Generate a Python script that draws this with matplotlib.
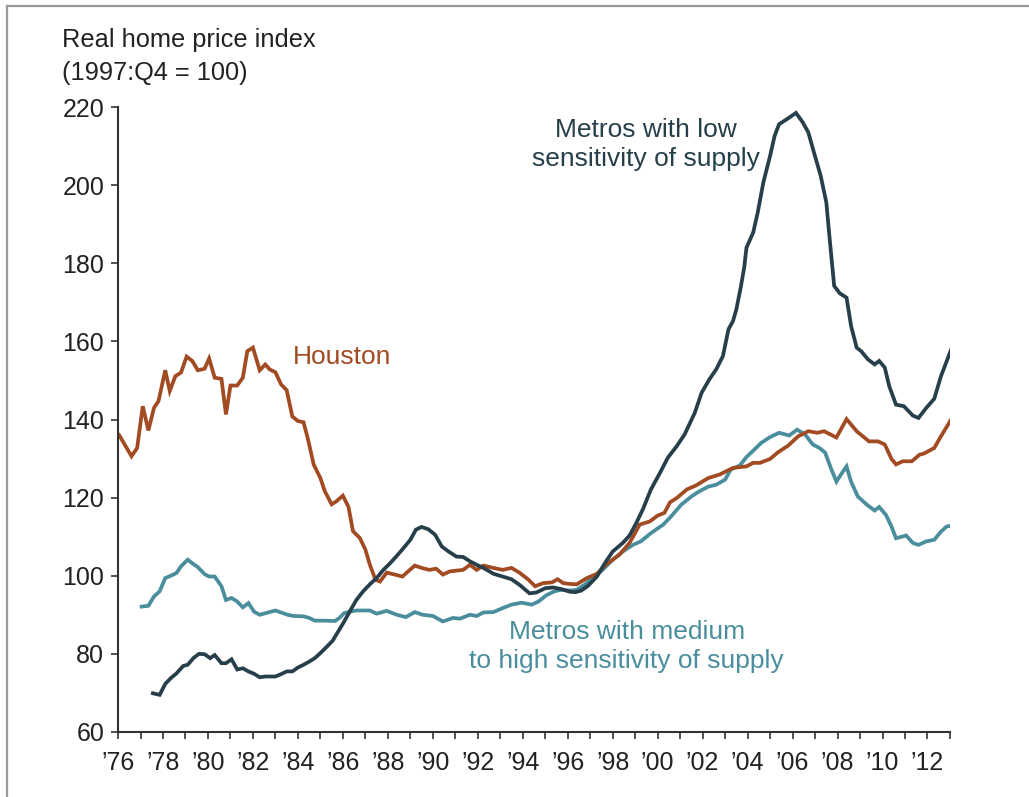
import matplotlib
matplotlib.use('Agg')
import matplotlib.pyplot as plt
from matplotlib.lines import Line2D

plt.rcParams['font.family'] = ['Liberation Sans', 'DejaVu Sans']

# Houston
houston_t = [1976.05, 1976.6, 1976.85, 1977.1, 1977.35, 1977.6, 1977.8, 1978.1, 1978.3, 1978.55,
             1978.8, 1979.05, 1979.3, 1979.55, 1979.85, 1980.05, 1980.3, 1980.6, 1980.8, 1981.0,
             1981.3, 1981.55, 1981.75, 1982.0, 1982.3, 1982.55, 1982.75, 1983.0, 1983.25, 1983.5,
             1983.75, 1984.0, 1984.25, 1984.45, 1984.7, 1985.0, 1985.2, 1985.5, 1985.7, 1986.0,
             1986.25, 1986.45, 1986.75, 1987.0, 1987.2, 1987.45, 1987.65, 1987.95, 1988.3, 1988.65,
             1988.9, 1989.2, 1989.5, 1989.85, 1990.15, 1990.45, 1990.75, 1991.05, 1991.35, 1991.65,
             1991.95, 1992.25, 1992.7, 1993.1, 1993.5, 1993.85, 1994.25, 1994.55, 1994.9, 1995.3,
             1995.55, 1995.8, 1996.1, 1996.4, 1996.85, 1997.3, 1997.7, 1998.3, 1998.75, 1999.2,
             1999.65, 2000.0, 2000.3, 2000.55, 2000.85, 2001.3, 2001.7, 2002.25, 2002.75, 2003.35,
             2003.95, 2004.25, 2004.55, 2005.0, 2005.35, 2005.8, 2006.25, 2006.7, 2007.1, 2007.4,
             2007.95, 2008.4, 2008.85, 2009.4, 2009.8, 2010.1, 2010.4, 2010.6, 2010.9, 2011.3,
             2011.65, 2011.85, 2012.3, 2012.6, 2013.05]
houston_v = [136.0, 130.6, 132.7, 143.4, 137.2, 143.0, 144.7, 152.6, 147.3, 151.1,
             152.0, 156.1, 155.0, 152.6, 153.0, 155.6, 150.7, 150.4, 141.3, 148.7,
             148.7, 150.7, 157.5, 158.4, 152.6, 154.1, 152.8, 152.1, 149.0, 147.5,
             140.8, 139.6, 139.3, 134.9, 128.5, 125.0, 121.6, 118.3, 119.0, 120.5,
             117.6, 111.4, 109.7, 106.7, 102.8, 99.0, 98.5, 100.8, 100.3, 99.8,
             101.1, 102.6, 102.0, 101.5, 101.8, 100.3, 101.1, 101.3, 101.5, 102.8,
             101.5, 102.6, 102.0, 101.5, 102.0, 100.8, 99.0, 97.3, 98.1, 98.3,
             99.1, 98.1, 97.9, 97.8, 99.4, 100.5, 102.8, 105.4, 108.4, 113.1,
             113.9, 115.4, 116.1, 118.8, 119.9, 122.1, 123.1, 125.0, 125.9, 127.6,
             128.0, 128.9, 128.9, 129.9, 131.6, 133.3, 135.7, 137.0, 136.6, 137.0,
             135.4, 140.1, 137.0, 134.4, 134.4, 133.6, 129.9, 128.5, 129.3, 129.3,
             131.0, 131.3, 132.7, 135.7, 140.0]

# Metros with low sensitivity of supply
low_t = [1977.55, 1977.85, 1978.1, 1978.35, 1978.6, 1978.9, 1979.1, 1979.35, 1979.6, 1979.85,
         1980.1, 1980.3, 1980.6, 1980.8, 1981.05, 1981.3, 1981.55, 1981.8, 1982.05, 1982.3,
         1982.55, 1983.0, 1983.25, 1983.5, 1983.75, 1984.0, 1984.25, 1984.5, 1984.75, 1985.0,
         1985.3, 1985.55, 1985.8, 1986.05, 1986.35, 1986.6, 1986.9, 1987.2, 1987.5, 1987.8,
         1988.1, 1988.4, 1988.7, 1989.0, 1989.25, 1989.5, 1989.8, 1990.1, 1990.4, 1990.7,
         1991.05, 1991.35, 1991.65, 1991.95, 1992.25, 1992.7, 1993.1, 1993.5, 1993.85, 1994.3,
         1994.6, 1995.0, 1995.35, 1995.7, 1996.1, 1996.35, 1996.6, 1996.9, 1997.3, 1997.65,
         1998.0, 1998.45, 1998.75, 1999.05, 1999.35, 1999.7, 2000.1, 2000.45, 2000.85, 2001.2,
         2001.65, 2001.95, 2002.3, 2002.6, 2002.9, 2003.15, 2003.35, 2003.5, 2003.7, 2003.85,
         2003.95, 2004.25, 2004.45, 2004.7, 2005.0, 2005.2, 2005.4, 2005.8, 2006.15, 2006.45,
         2006.7, 2006.95, 2007.25, 2007.5, 2007.65, 2007.85, 2008.1, 2008.4, 2008.6, 2008.85,
         2009.05, 2009.35, 2009.65, 2009.85, 2010.1, 2010.3, 2010.6, 2010.95, 2011.35, 2011.6,
         2011.95, 2012.3, 2012.6, 2013.05]
low_v = [69.9, 69.5, 72.3, 73.8, 75.0, 76.9, 77.2, 78.9, 80.0, 79.9,
         78.9, 79.7, 77.6, 77.6, 78.6, 76.0, 76.3, 75.5, 74.9, 74.0,
         74.2, 74.2, 74.8, 75.5, 75.5, 76.5, 77.2, 78.0, 78.9, 80.2,
         81.9, 83.4, 85.8, 88.2, 91.3, 93.8, 96.0, 97.8, 99.4, 101.5,
         103.2, 105.1, 107.1, 109.2, 111.8, 112.5, 111.9, 110.5, 107.5, 106.2,
         104.9, 104.8, 103.7, 102.8, 102.0, 100.5, 99.8, 99.1, 97.7, 95.5,
         95.7, 96.8, 97.0, 96.6, 95.9, 95.8, 96.2, 97.4, 99.8, 103.2,
         106.2, 108.4, 110.3, 113.5, 117.1, 122.1, 126.3, 130.2, 133.2, 136.2,
         141.7, 146.8, 150.3, 152.8, 156.2, 163.1, 165.2, 168.2, 174.0, 179.0,
         184.0, 187.9, 193.0, 200.7, 207.5, 212.6, 215.6, 217.1, 218.5, 216.1,
         213.5, 208.4, 202.4, 195.6, 186.2, 174.2, 172.3, 171.2, 164.0, 158.4,
         157.5, 155.4, 154.1, 155.0, 153.3, 148.5, 143.8, 143.4, 141.0, 140.4,
         143.0, 145.3, 151.1, 157.9]

# Metros with medium to high sensitivity of supply
med_t = [1977.05, 1977.35, 1977.6, 1977.85, 1978.1, 1978.35, 1978.6, 1978.8, 1979.1, 1979.3,
         1979.55, 1979.85, 1980.05, 1980.3, 1980.6, 1980.8, 1981.05, 1981.3, 1981.55, 1981.8,
         1982.05, 1982.3, 1982.55, 1983.0, 1983.25, 1983.55, 1983.8, 1984.25, 1984.5, 1984.75,
         1985.2, 1985.65, 1985.85, 1986.05, 1986.3, 1986.6, 1986.9, 1987.2, 1987.5, 1987.95,
         1988.4, 1988.8, 1989.2, 1989.55, 1990.0, 1990.45, 1990.9, 1991.2, 1991.65, 1991.95,
         1992.25, 1992.7, 1993.1, 1993.5, 1993.95, 1994.4, 1994.7, 1995.05, 1995.4, 1995.7,
         1996.1, 1996.4, 1996.75, 1997.1, 1997.55, 1998.0, 1998.45, 1998.9, 1999.25, 1999.7,
         2000.25, 2000.6, 2001.05, 2001.5, 2001.85, 2002.25, 2002.6, 2003.0, 2003.25, 2003.65,
         2003.95, 2004.3, 2004.6, 2005.0, 2005.4, 2005.85, 2006.2, 2006.55, 2006.9, 2007.2,
         2007.45, 2007.7, 2007.95, 2008.15, 2008.4, 2008.6, 2008.9, 2009.3, 2009.65, 2009.85,
         2010.15, 2010.4, 2010.6, 2011.05, 2011.35, 2011.6, 2011.95, 2012.3, 2012.6, 2012.85,
         2013.05]
med_v = [92.1, 92.3, 94.7, 96.0, 99.4, 100.0, 100.7, 102.4, 104.1, 103.2,
         102.2, 100.4, 99.8, 99.8, 97.3, 93.8, 94.3, 93.4, 91.9, 93.0,
         90.8, 90.0, 90.4, 91.1, 90.6, 90.0, 89.7, 89.6, 89.2, 88.5,
         88.5, 88.4, 89.2, 90.4, 90.8, 91.1, 91.1, 91.1, 90.3, 91.0,
         90.0, 89.4, 90.7, 90.0, 89.7, 88.3, 89.2, 89.0, 90.0, 89.7,
         90.6, 90.7, 91.7, 92.6, 93.1, 92.6, 93.4, 95.0, 96.0, 96.4,
         96.2, 96.4, 97.7, 99.4, 101.5, 104.1, 106.2, 107.9, 108.8, 110.9,
         113.1, 115.2, 118.2, 120.3, 121.6, 122.8, 123.3, 124.6, 127.2, 128.2,
         130.4, 132.3, 134.0, 135.5, 136.6, 135.9, 137.4, 136.2, 133.6, 132.7,
         131.5, 127.6, 124.1, 125.9, 128.0, 124.1, 120.3, 118.2, 116.7, 117.6,
         115.6, 112.6, 109.6, 110.3, 108.4, 107.9, 108.8, 109.2, 111.3, 112.6,
         112.8]

tick_years = list(range(1976, 2014))
label_years = list(range(1976, 2013, 2))

c_houston = '#A24B22'
c_low = '#263F4A'
c_med = '#4A8E9E'
c_axis = '#333333'

fig = plt.figure(figsize=(10.29, 7.97), dpi=100)
ax = fig.add_axes([0.1147, 0.0816, 0.8085, 0.7841])

ax.plot(med_t, med_v, color=c_med, lw=2.7, solid_joinstyle='miter')
ax.plot(houston_t, houston_v, color=c_houston, lw=2.7, solid_joinstyle='miter')
ax.plot(low_t, low_v, color=c_low, lw=2.7, solid_joinstyle='miter')

ax.set_xlim(1976, 2013)
ax.set_ylim(60, 220)
ax.set_yticks(range(60, 221, 20))
ax.set_xticks(tick_years)
ax.set_xticklabels(['\u2019%02d' % (y % 100) if y in label_years else '' for y in tick_years])

for s in ['top', 'right']:
    ax.spines[s].set_visible(False)
for s in ['left', 'bottom']:
    ax.spines[s].set_color(c_axis)
    ax.spines[s].set_linewidth(1.5)
ax.tick_params(axis='both', direction='out', length=5, width=1.2, color=c_axis,
               labelsize=18, labelcolor='#222222')
ax.tick_params(axis='x', pad=9)
ax.tick_params(axis='y', pad=5)

fig.text(62 / 1029, 1 - 40 / 797, 'Real home price index', fontsize=18.3, color='#222222',
         ha='left', va='center')
fig.text(62 / 1029, 1 - 73 / 797, '(1997:Q4 = 100)', fontsize=18.3, color='#222222',
         ha='left', va='center')

ax.text(1983.78, 155.9, 'Houston', color=c_houston, fontsize=19, ha='left', va='center')
ax.text(1999.47, 210.5, 'Metros with low\nsensitivity of supply', color=c_low, fontsize=19,
        ha='center', va='center', linespacing=1.27)
ax.text(1998.62, 81.8, 'Metros with medium\nto high sensitivity of supply', color=c_med,
        fontsize=19, ha='center', va='center', linespacing=1.27)

# outer frame (top and left only)
fig.add_artist(Line2D([7 / 1029, 7 / 1029], [0, 1 - 6 / 797], transform=fig.transFigure,
                      color='#9a9a96', lw=1.6))
fig.add_artist(Line2D([7 / 1029, 1], [1 - 6 / 797, 1 - 6 / 797], transform=fig.transFigure,
                      color='#9a9a96', lw=1.6))

fig.savefig('out.png', dpi=100)
